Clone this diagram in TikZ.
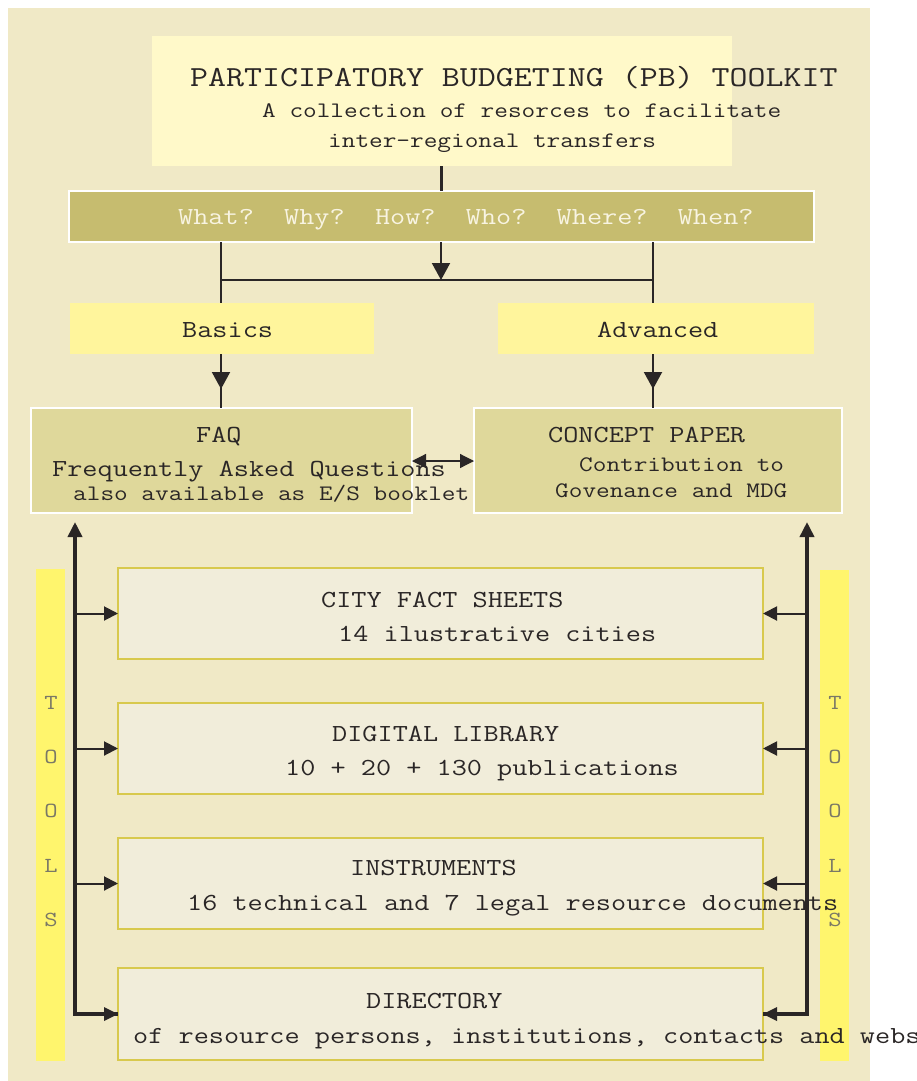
\documentclass[tikz,border=0pt]{standalone}
\usepackage{fontspec}
\usetikzlibrary{arrows.meta,decorations.markings}
\newfontfamily\monofam[FakeStretch=1.2]{Latin Modern Mono}
\definecolor{bgbeige}{HTML}{F0E9C6}
\definecolor{titlefill}{HTML}{FFF9C9}
\definecolor{qfill}{HTML}{C6BC6F}
\definecolor{lightfill}{HTML}{FFF59C}
\definecolor{faqfill}{HTML}{DFD89B}
\definecolor{toolfill}{HTML}{F1EDDA}
\definecolor{toolborder}{HTML}{D8C94D}
\definecolor{toolsbar}{HTML}{FFF56D}
\definecolor{lettergrey}{HTML}{7A7866}
\definecolor{ink}{HTML}{2A2626}
\definecolor{qtext}{HTML}{F8F4E2}
\begin{document}
\begin{tikzpicture}[x=1pt,y=-1pt,
  box/.style={rectangle,anchor=north west,inner sep=0pt,outer sep=0pt},
  whiteline/.style={draw=white,line width=1.3pt},
  toolbox/.style={box,fill=toolfill,draw=toolborder,line width=2.4pt,minimum width=645pt,minimum height=91pt},
  bigtxt/.style={anchor=base west,inner sep=0pt,text=ink,font=\monofam\fontsize{29.1}{34}\selectfont},
  txt/.style={anchor=base west,inner sep=0pt,text=ink,font=\monofam\fontsize{24.5}{29}\selectfont},
  smalltxt/.style={anchor=base west,inner sep=0pt,text=ink,font=\monofam\fontsize{22.1}{26}\selectfont},
  lettertxt/.style={anchor=base,inner sep=0pt,text=lettergrey,font=\monofam\fontsize{21.5}{25}\selectfont},
  conn/.style={draw=ink,line width=2pt},
  thickconn/.style={draw=ink,line width=3.6pt},
  bigtip/.style={-{Triangle[length=17pt,width=18pt]}},
  smalltip/.style={-{Triangle[length=14pt,width=14pt]}},
  midtip/.style={postaction={decorate},decoration={markings,mark=at position 35pt with {\arrow{Triangle[length=17pt,width=18pt]}}}}
]
\useasboundingbox (0,0) rectangle (917,1081);
% background
\node[box,fill=bgbeige,minimum width=862pt,minimum height=1073pt] (bg) at (8,8) {};

% title
\node[box,fill=titlefill,minimum width=580pt,minimum height=130pt] (title) at (152,36) {};
\node[bigtxt] (t1) at (190,86) {PARTICIPATORY BUDGETING (PB) TOOLKIT};
\node[smalltxt] (t2) at (262,117) {A collection of resorces to facilitate};
\node[smalltxt] (t3) at (328,147) {inter-regional transfers};

% questions bar
\node[box,fill=qfill,whiteline,minimum width=745pt,minimum height=51pt] (q) at (69,191) {};
\node[txt,text=qtext] (qt) at (178,224) {What?\ \ Why?\ \ How?\ \ Who?\ \ Where?\ \ When?};

% basics / advanced
\node[box,fill=lightfill,minimum width=304pt,minimum height=51pt] (basics) at (70,303) {};
\node[txt] (basicst) at (182,337) {Basics};
\node[box,fill=lightfill,minimum width=316pt,minimum height=51pt] (adv) at (498,303) {};
\node[txt] (advt) at (597,337) {Advanced};

% FAQ / concept
\node[box,fill=faqfill,whiteline,minimum width=381pt,minimum height=105pt] (faq) at (31,408) {};
\node[txt] (faq1) at (196,442) {FAQ};
\node[txt] (faq2) at (52,476) {Frequently Asked Questions};
\node[smalltxt] (faq3) at (73,500) {also available as E/S booklet};
\node[box,fill=faqfill,whiteline,minimum width=368pt,minimum height=105pt] (cp) at (474,408) {};
\node[txt] (cp1) at (548,442) {CONCEPT PAPER};
\node[smalltxt] (cp2) at (579,471) {Contribution to};
\node[smalltxt] (cp3) at (555,497) {Govenance and MDG};

% tools bars
\node[box,fill=toolsbar,minimum width=29pt,minimum height=492pt] (barL) at (36,569) {};
\node[box,fill=toolsbar,minimum width=29pt,minimum height=491pt] (barR) at (820,570) {};
\foreach \c/\yy [count=\i] in {T/709,O/763,O/817,L/872,S/926}{
  \node[lettertxt] (lL\i) at (51,\yy) {\c};
  \node[lettertxt] (lR\i) at (835,\yy) {\c};
}

% tool boxes
\node[toolbox] (city) at (118,568) {};
\node[txt] (city1) at (321,607) {CITY FACT SHEETS};
\node[txt] (city2) at (338,641) {14 ilustrative cities};
\node[toolbox] (dig) at (118,703) {};
\node[txt] (dig1) at (332,741) {DIGITAL LIBRARY};
\node[txt] (dig2) at (285,775) {10 + 20 + 130 publications};
\node[toolbox] (ins) at (118,838) {};
\node[txt] (ins1) at (350,875) {INSTRUMENTS};
\node[txt] (ins2) at (187,910) {16 technical and 7 legal resource documents};
\node[toolbox,minimum height=92pt] (dir) at (118,968) {};
\node[txt] (dir1) at (366,1008) {DIRECTORY};
\node[txt] (dir2) at (133,1043) {of resource persons, institutions, contacts and webs};

% connectors top
\coordinate (jL) at (221,280);
\coordinate (jM) at (441,280);
\coordinate (jR) at (653,280);
\draw[draw=ink,line width=3pt] (title.south -| jM) -- (q.north -| jM);
\draw[conn,bigtip] (q.south -| jM) -- (jM);
\draw[conn] (jL) -- (jR);
\draw[conn] (q.south -| jL) -- (basics.north -| jL);
\draw[conn] (q.south -| jR) -- (adv.north -| jR);
\draw[conn,midtip] (basics.south -| jL) -- (faq.north -| jL);
\draw[conn,midtip] (adv.south -| jR) -- (cp.north -| jR);
\draw[draw=ink,line width=1.2pt,{Triangle[length=14pt,width=14pt]}-{Triangle[length=14pt,width=14pt]}] (faq.east |- 0,461) -- (cp.west |- 0,461);

% tools connectors
\coordinate (lTop) at (75,522);
\coordinate (lBot) at (75,1014);
\coordinate (rTop) at (807,522);
\coordinate (rBot) at (807,1014);
\draw[thickconn,{Triangle[length=15pt,width=14pt]}-] (lTop) -- (lBot) -- (dir.west);
\draw[thickconn,{Triangle[length=15pt,width=14pt]}-] (rTop) -- (rBot) -- (dir.east);
\fill[ink] (dir.west) -- ++(-14,-7) -- ++(0,14) -- cycle;
\fill[ink] (dir.east) -- ++(14,-7) -- ++(0,14) -- cycle;
\foreach \b in {city,dig,ins}{
  \draw[conn,smalltip] (lTop |- \b.west) -- (\b.west);
  \draw[conn,smalltip] (rTop |- \b.east) -- (\b.east);
}
\end{tikzpicture}
\end{document}
